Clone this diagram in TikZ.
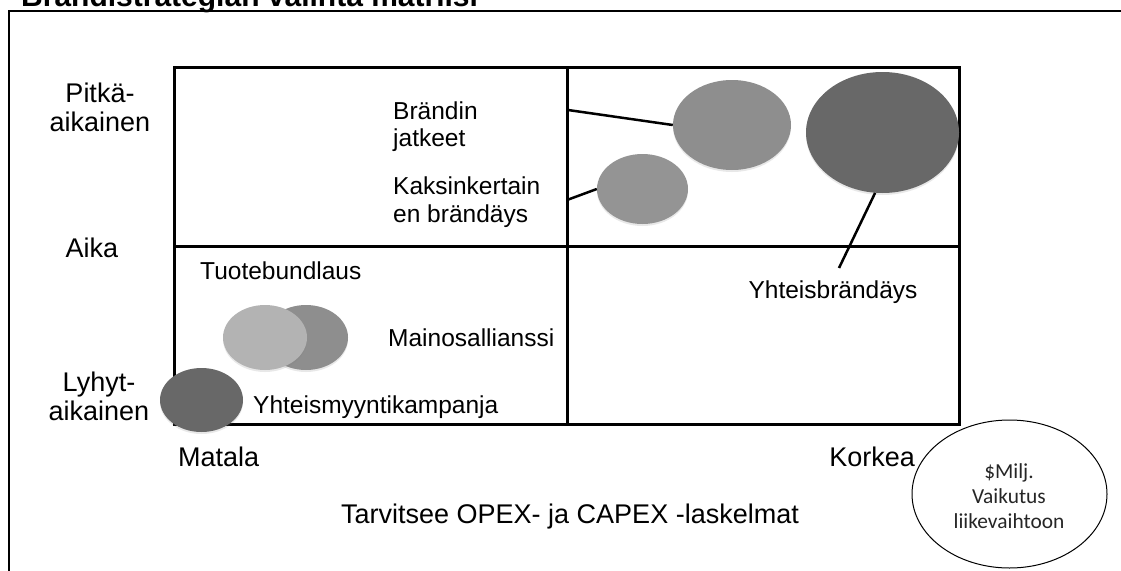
\documentclass[tikz,border=0pt]{standalone}
\usepackage{fontspec}
\setmainfont{Liberation Sans}
\newfontfamily\calibrifont{Carlito}
\usetikzlibrary{shapes.geometric,shadows}
\definecolor{darkblob}{HTML}{686868}
\definecolor{midblob}{HTML}{8E8E8E}
\definecolor{lightblob}{HTML}{B3B3B3}
\begin{document}
\begin{tikzpicture}[x=1pt,y=-1pt,
  gridline/.style={line width=3pt},
  frameline/.style={line width=2.5pt},
  blob/.style={ellipse, draw=none, inner sep=0pt,
    drop shadow={opacity=0.18, shadow xshift=0pt, shadow yshift=-2pt}},
  link/.style={line width=2.5pt},
  qlabel/.style={inner sep=0pt, font=\fontsize{24.5}{27.5}\selectfont, align=left},
  axislabel/.style={inner sep=0pt, font=\fontsize{27}{29}\selectfont, align=center},
]
\useasboundingbox (0,0) rectangle (1121,570);

% title and outer frame
\node[anchor=base west, inner sep=0pt, font=\bfseries\fontsize{30}{30}\selectfont] (title) at (21,6) {Brändistrategian valinta matriisi};
\draw[frameline] (1140,11) -- (9,11) -- (9,590);

% the 2x2 matrix
\draw[gridline] (174,67) rectangle (959,424);
\draw[gridline] (567,67) -- (567,424);
\draw[gridline] (174,246) -- (959,246);

% vertical axis labels
\node[axislabel] (long) at (100,107) {Pitkä-\\aikainen};
\node[axislabel] (time) at (92,248) {Aika};
\node[axislabel] (short) at (99,396) {Lyhyt-\\aikainen};

% horizontal axis labels
\node[axislabel, anchor=west] (low) at (178,457) {Matala};
\node[axislabel, anchor=east] (high) at (915,457) {Korkea};
\node[axislabel] (need) at (570,517) {Tarvitsee OPEX- ja CAPEX -laskelmat};

% upper-right quadrant bubbles
\node[blob, fill=darkblob, minimum width=153pt, minimum height=121pt] (cob) at (882.5,132.5) {};
\node[blob, fill=midblob, minimum width=118pt, minimum height=90pt] (ext) at (732,125) {};
\node[blob, fill=midblob!95!white, minimum width=91pt, minimum height=70pt] (dbl) at (642.5,189) {};

% lower-left quadrant bubbles
\node[blob, fill=midblob, minimum width=84pt, minimum height=65pt] (ads) at (306,337.5) {};
\node[blob, fill=lightblob, minimum width=84pt, minimum height=65pt] (bundle) at (265,337.5) {};
\node[blob, fill=darkblob, minimum width=83pt, minimum height=64pt] (sales) at (201.5,400) {};

% quadrant labels
\node[qlabel, anchor=west] (extlbl) at (393,126.5) {Brändin\\jatkeet};
\node[qlabel, anchor=west] (dbllbl) at (393,202) {Kaksinkertain\\en brändäys};
\node[qlabel, anchor=west] (bundlelbl) at (200,271) {Tuotebundlaus};
\node[qlabel, anchor=west] (adslbl) at (388,338) {Mainosallianssi};
\node[qlabel, anchor=west] (saleslbl) at (253,407) {Yhteismyyntikampanja};
\node[qlabel] (coblbl) at (833,292) {Yhteisbrändäys};

% leader lines
\coordinate (extfoot) at (568,110);
\coordinate (dblfoot) at (567,200);
\coordinate (cobfoot) at (839,268);
\draw[link] (extfoot) -- (ext.west);
\draw[link] (dblfoot) -- (dbl.west);
\draw[link] (cob.263) -- (cobfoot);

% revenue impact bubble
\node[ellipse, draw, line width=1pt, fill=white, minimum width=195pt, minimum height=148pt, inner sep=0pt] (impact) at (1009.5,494) {};
\node[inner sep=0pt, align=center, text=black!85, font=\calibrifont\fontsize{21.4}{25}\selectfont] (impactlbl) at (1009,496) {\$Milj.\\Vaikutus\\liikevaihtoon};
\end{tikzpicture}
\end{document}
